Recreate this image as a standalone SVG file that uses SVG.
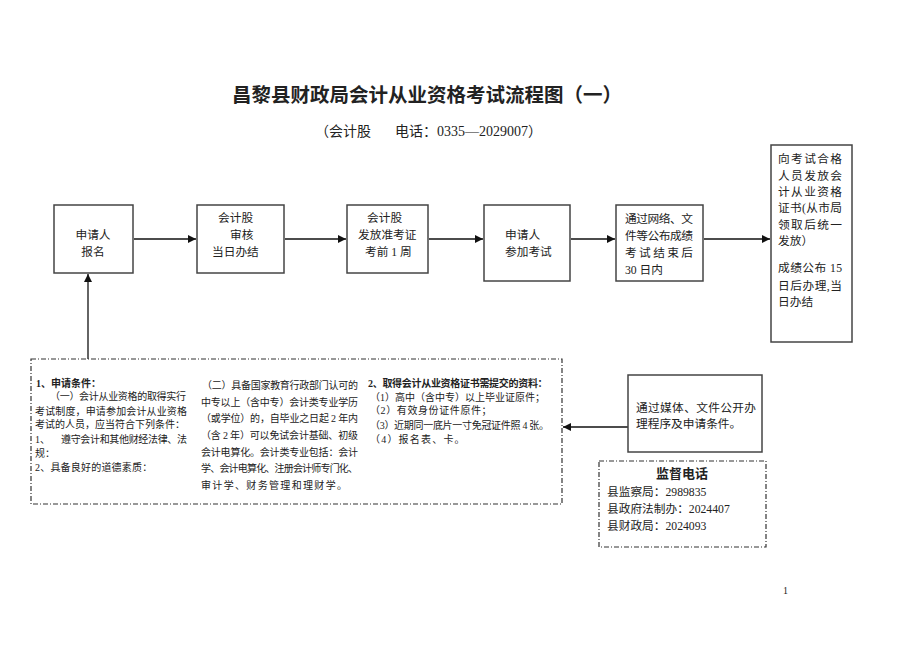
<svg xmlns="http://www.w3.org/2000/svg" width="920" height="651" viewBox="0 0 920 651">
<defs>
<style>
text{font-family:"Liberation Serif","Noto Sans CJK SC",serif;fill:#222}
.box{fill:#fff;stroke:#444;stroke-width:1.5}
.dash{fill:none;stroke:#333;stroke-width:1.2;stroke-dasharray:5,2,1,2}
.ln{stroke:#111;stroke-width:1.3;fill:none}
.t12{font-size:11.7px}
.t10{font-size:10px}
.b{font-weight:bold}
</style>
<marker id="ah" viewBox="0 0 10 10" refX="10" refY="5" markerWidth="8" markerHeight="8" markerUnits="userSpaceOnUse" orient="auto">
<path d="M0,0 L10,5 L0,10 z" fill="#111"/>
</marker>
</defs>
<rect width="920" height="651" fill="#fff"/>

<g id="title">
<text x="427" y="102" font-size="19.5" font-weight="bold" text-anchor="middle">昌黎县财政局会计从业资格考试流程图（一）</text>
<text font-size="14"><tspan x="315" y="136">（会计股</tspan><tspan x="395" y="136">电话：0335—2029007）</tspan></text>
</g>

<g id="connectors">
<line class="ln" x1="134" y1="239" x2="196" y2="239" marker-end="url(#ah)"/>
<line class="ln" x1="285" y1="239" x2="346" y2="239" marker-end="url(#ah)"/>
<line class="ln" x1="429" y1="239" x2="483" y2="239" marker-end="url(#ah)"/>
<line class="ln" x1="571" y1="239" x2="615" y2="239" marker-end="url(#ah)"/>
<line class="ln" x1="704" y1="239" x2="770" y2="239" marker-end="url(#ah)"/>
<line class="ln" x1="88" y1="359" x2="88" y2="274" marker-end="url(#ah)"/>
<line class="ln" x1="628" y1="427" x2="563" y2="427" marker-end="url(#ah)"/>
</g>

<g id="n1">
<rect class="box" x="54" y="205" width="79" height="68"/>
<text class="t12" x="93" y="239" text-anchor="middle">申请人</text>
<text class="t12" x="93" y="256" text-anchor="middle">报名</text>
</g>

<g id="n2">
<rect class="box" x="197" y="205" width="87" height="68"/>
<text class="t12" x="218" y="222">会计股</text>
<text class="t12" x="230" y="239">审核</text>
<text class="t12" x="212" y="256">当日办结</text>
</g>

<g id="n3">
<rect class="box" x="347" y="205" width="81" height="68"/>
<text class="t12" x="367" y="222">会计股</text>
<text class="t12" x="358" y="239">发放准考证</text>
<text class="t12" x="365" y="256">考前 1 周</text>
</g>

<g id="n4">
<rect class="box" x="484" y="205" width="86" height="76"/>
<text class="t12" x="505" y="239">申请人</text>
<text class="t12" x="505" y="256">参加考试</text>
</g>

<g id="n5">
<rect class="box" x="616" y="205" width="87" height="76"/>
<text class="t12" x="625" y="223" textLength="68" lengthAdjust="spacing">通过网络、文</text>
<text class="t12" x="625" y="240" textLength="68" lengthAdjust="spacing">件等公布成绩</text>
<text class="t12" x="625" y="257" textLength="68" lengthAdjust="spacing">考试结束后</text>
<text class="t12" x="625" y="274">30 日内</text>
</g>

<g id="n6">
<rect class="box" x="771" y="145" width="81" height="197"/>
<text class="t12" x="778" y="163" textLength="64" lengthAdjust="spacing">向考试合格</text>
<text class="t12" x="778" y="180" textLength="64" lengthAdjust="spacing">人员发放会</text>
<text class="t12" x="778" y="196" textLength="64" lengthAdjust="spacing">计从业资格</text>
<text class="t12" x="778" y="212" textLength="64" lengthAdjust="spacing">证书(从市局</text>
<text class="t12" x="778" y="229" textLength="64" lengthAdjust="spacing">领取后统一</text>
<text class="t12" x="778" y="245">发放）</text>
<text class="t12" x="778" y="272" textLength="64" lengthAdjust="spacing">成绩公布 15</text>
<text class="t12" x="778" y="290" textLength="64" lengthAdjust="spacing">日后办理,当</text>
<text class="t12" x="778" y="306">日办结</text>
</g>

<g id="n7">
<rect class="dash" x="31" y="359" width="531" height="145"/>
<text class="t10 b" x="36" y="387">1、申请条件：</text>
<text class="t10" x="50" y="400" textLength="136" lengthAdjust="spacing">（一）会计从业资格的取得实行</text>
<text class="t10" x="35" y="415" textLength="152" lengthAdjust="spacing">考试制度，申请参加会计从业资格</text>
<text class="t10" x="35" y="428" textLength="150" lengthAdjust="spacing">考试的人员，应当符合下列条件：</text>
<text class="t10" x="35" y="443">1、</text>
<text class="t10" x="61" y="443" textLength="126" lengthAdjust="spacing">遵守会计和其他财经法律、法</text>
<text class="t10" x="35" y="457">规：</text>
<text class="t10" x="35" y="471" letter-spacing="0.2">2、具备良好的道德素质：</text>

<text class="t10" x="202" y="389" textLength="156" lengthAdjust="spacing">（二）具备国家教育行政部门认可的</text>
<text class="t10" x="201" y="406" textLength="157" lengthAdjust="spacing">中专以上（含中专）会计类专业学历</text>
<text class="t10" x="201" y="422" textLength="157" lengthAdjust="spacing">（或学位）的，自毕业之日起 2 年内</text>
<text class="t10" x="201" y="439" textLength="157" lengthAdjust="spacing">（含 2 年）可以免试会计基础、初级</text>
<text class="t10" x="201" y="456" textLength="157" lengthAdjust="spacing">会计电算化。会计类专业包括：会计</text>
<text class="t10" x="201" y="472" textLength="157" lengthAdjust="spacing">学、会计电算化、注册会计师专门化、</text>
<text class="t10" x="201" y="489" textLength="146" lengthAdjust="spacing">审计学、财务管理和理财学。</text>

<text class="t10 b" x="368" y="387" letter-spacing="-0.3">2、取得会计从业资格证书需提交的资料：</text>
<text class="t10" x="370" y="401">（1）高中（含中专）以上毕业证原件；</text>
<text class="t10" x="370" y="414" letter-spacing="0.6">（2）有效身份证件原件；</text>
<text class="t10" x="370" y="429" letter-spacing="-0.3">（3）近期同一底片一寸免冠证件照 4 张。</text>
<text class="t10" x="370" y="443" letter-spacing="1.2">（4）报名表、卡。</text>
</g>

<g id="n8">
<rect class="box" x="628" y="375" width="134" height="77"/>
<text class="t12" x="636" y="412" textLength="120" lengthAdjust="spacing">通过媒体、文件公开办</text>
<text class="t12" x="636" y="428">理程序及申请条件。</text>
</g>

<g id="n9">
<rect class="dash" x="599" y="461" width="167" height="86" stroke-dasharray="4,2,1,2"/>
<text x="682" y="478" font-size="13" font-weight="bold" text-anchor="middle">监督电话</text>
<text class="t12" x="607" y="496">县监察局：2989835</text>
<text class="t12" x="607" y="513">县政府法制办：2024407</text>
<text class="t12" x="607" y="530">县财政局：2024093</text>
</g>

<text x="783" y="594" font-size="10">1</text>
</svg>
